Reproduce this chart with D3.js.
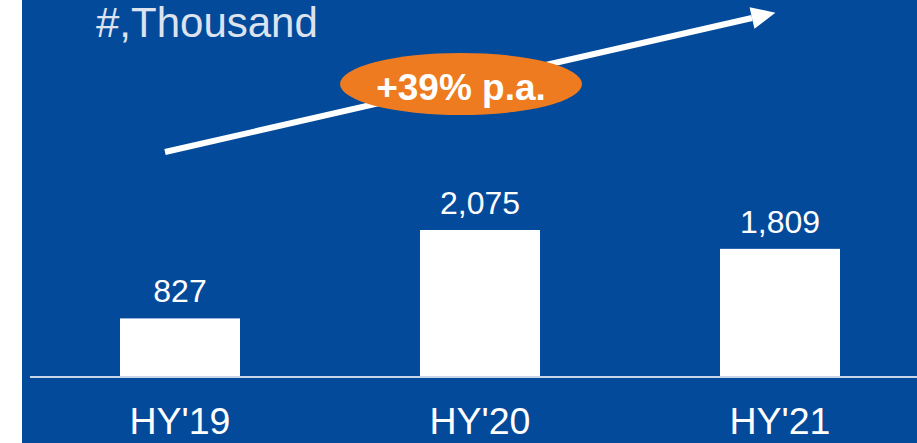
<!DOCTYPE html>
<html><head><meta charset="utf-8">
<script src="https://cdn.jsdelivr.net/npm/d3@7"></script>
<style>html,body{margin:0;padding:0;background:#fff;}svg{display:block;}</style>
</head><body>
<svg id="c" width="917" height="443"></svg>
<script>
const categories = ["HY'19", "HY'20", "HY'21"];
const values = [827, 2075, 1809];
const valueLabels = ["827", "2,075", "1,809"];
const unitLabel = "#,Thousand";
const growthLabel = "+39% p.a.";

const W = 917, H = 443;
const svg = d3.select("#c");
const blue = "#044a9b";
svg.append("rect").attr("x", 22).attr("y", 0).attr("width", W - 22).attr("height", H).attr("fill", blue);

const baseY = 377;
const x = d3.scaleBand().domain(categories).range([30, 930]).paddingInner(0.6).paddingOuter(0.3);
const y = d3.scaleLinear().domain([0, 2075]).range([baseY, 230]);

// bars
svg.selectAll("rect.bar").data(values).enter().append("rect")
  .attr("class", "bar")
  .attr("x", (d, i) => x(categories[i]))
  .attr("width", x.bandwidth())
  .attr("y", d => y(d))
  .attr("height", d => baseY - y(d))
  .attr("fill", "#ffffff");

// baseline
svg.append("line").attr("x1", 30).attr("x2", W).attr("y1", baseY).attr("y2", baseY)
  .attr("stroke", "#c9d5e8").attr("stroke-width", 2);

// value labels
svg.selectAll("text.val").data(values).enter().append("text")
  .attr("class", "val")
  .attr("x", (d, i) => x(categories[i]) + x.bandwidth() / 2)
  .attr("y", d => y(d) - 16)
  .attr("text-anchor", "middle")
  .attr("font-family", "Liberation Sans, Arial, sans-serif")
  .attr("font-size", 32)
  .attr("fill", "#ffffff")
  .text((d, i) => valueLabels[i]);

// axis category labels
const axis = d3.axisBottom(x).tickSize(0).tickPadding(0);
const ax = svg.append("g").attr("transform", `translate(0,${baseY})`).call(axis);
ax.select(".domain").remove();
ax.selectAll("text")
  .attr("y", 57).attr("dy", 0)
  .attr("font-family", "Liberation Sans, Arial, sans-serif")
  .attr("font-size", 37.5)
  .attr("fill", "#ffffff");

// unit label
svg.append("text").attr("x", 96).attr("y", 37)
  .attr("font-family", "Liberation Sans, Arial, sans-serif")
  .attr("font-size", 42).attr("fill", "#dde3ee").text(unitLabel);

// growth arrow
const x0 = 165, y0 = 152, x1 = 752, y1 = 18;
svg.append("line").attr("x1", x0).attr("y1", y0).attr("x2", x1).attr("y2", y1)
  .attr("stroke", "#ffffff").attr("stroke-width", 6);
// arrowhead
const ang = Math.atan2(y1 - y0, x1 - x0);
const tipLen = 24, half = 11;
const tip = [x1 + Math.cos(ang) * tipLen, y1 + Math.sin(ang) * tipLen];
const b1 = [x1 - Math.sin(ang) * half, y1 + Math.cos(ang) * half];
const b2 = [x1 + Math.sin(ang) * half, y1 - Math.cos(ang) * half];
svg.append("path").attr("d", `M${tip}L${b1}L${b2}Z`).attr("fill", "#ffffff");

// ellipse badge
svg.append("ellipse").attr("cx", 461).attr("cy", 84).attr("rx", 121).attr("ry", 31).attr("fill", "#ee7b1f");
svg.append("text").attr("x", 461).attr("y", 100).attr("text-anchor", "middle")
  .attr("font-family", "Liberation Sans, Arial, sans-serif").attr("font-weight", "bold")
  .attr("font-size", 37).attr("fill", "#ffffff").text(growthLabel);
</script>
</body></html>
